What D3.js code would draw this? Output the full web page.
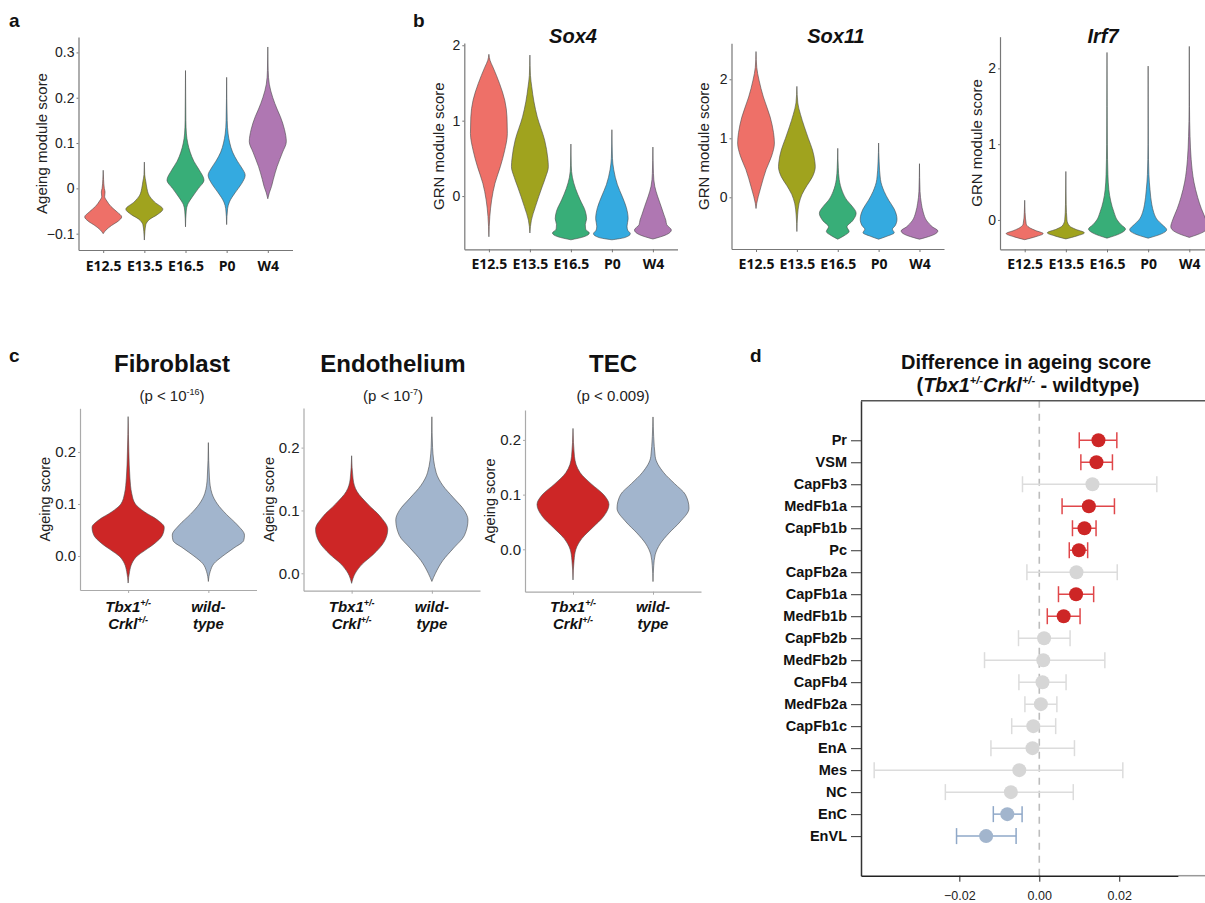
<!DOCTYPE html>
<html>
<head>
<meta charset="utf-8">
<script src="https://cdn.jsdelivr.net/npm/d3@7/dist/d3.min.js"></script>
<style>
  body { margin: 0; background: #fff; }
  svg { display: block; }
  text { font-family: "Liberation Sans", Arial, sans-serif; }
</style>
</head>
<body>
<svg id="fig" width="1205" height="903"></svg>
<script>
// ---------- data ----------
const stages = ['E12.5', 'E13.5', 'E16.5', 'P0', 'W4'];
const stageColors = ['#EE7068', '#A0A31E', '#38AE78', '#34AAE0', '#AF77B2'];

// violin profiles: [score, relative half width]
const ageingViolins = [
  [[0.04,0],[0.02,0.02],[0.0,0.06],[-0.008,0.1],[-0.018,0.08],[-0.028,0.2],[-0.04,0.42],[-0.052,0.75],[-0.063,1],[-0.072,0.82],[-0.082,0.45],[-0.092,0.15],[-0.1,0]],
  [[0.058,0],[0.03,0.02],[0.015,0.08],[0.0,0.14],[-0.015,0.25],[-0.03,0.55],[-0.046,1],[-0.058,0.7],[-0.068,0.3],[-0.08,0.08],[-0.095,0.03],[-0.114,0]],
  [[0.26,0],[0.15,0.02],[0.12,0.05],[0.1,0.12],[0.08,0.25],[0.06,0.45],[0.04,0.75],[0.018,1],[0.0,0.7],[-0.02,0.35],[-0.035,0.12],[-0.05,0.04],[-0.085,0]],
  [[0.245,0],[0.15,0.03],[0.12,0.08],[0.1,0.17],[0.08,0.32],[0.06,0.58],[0.045,0.82],[0.029,1],[0.01,0.8],[-0.01,0.45],[-0.03,0.15],[-0.045,0.05],[-0.08,0]],
  [[0.312,0],[0.26,0.02],[0.23,0.08],[0.2,0.27],[0.175,0.5],[0.158,0.68],[0.13,0.9],[0.103,1],[0.08,0.8],[0.048,0.5],[0.02,0.3],[0.004,0.2],[-0.01,0.08],[-0.023,0]]
];
const sox4Violins = [
  [[1.88,0],[1.8,0.06],[1.71,0.22],[1.49,0.58],[1.27,0.86],[1.05,0.98],[0.83,1],[0.6,0.85],[0.39,0.62],[0.17,0.33],[-0.05,0.15],[-0.27,0.05],[-0.54,0]],
  [[1.87,0],[1.6,0.03],[1.45,0.1],[1.25,0.22],[1.05,0.4],[0.74,0.8],[0.5,0.97],[0.39,1],[0.25,0.85],[0.12,0.66],[-0.14,0.3],[-0.32,0.08],[-0.49,0]],
  [[0.69,0],[0.4,0.02],[0.25,0.08],[0.1,0.25],[-0.05,0.5],[-0.2,0.78],[-0.3,0.85],[-0.38,0.78],[-0.44,0.8],[-0.49,1],[-0.54,0.7],[-0.58,0]],
  [[0.88,0],[0.5,0.03],[0.35,0.1],[0.15,0.3],[0.0,0.55],[-0.15,0.78],[-0.3,0.88],[-0.4,0.82],[-0.45,0.85],[-0.5,1],[-0.55,0.7],[-0.58,0]],
  [[0.65,0],[0.3,0.03],[0.13,0.1],[0.0,0.25],[-0.14,0.45],[-0.25,0.6],[-0.32,0.7],[-0.38,0.75],[-0.45,1],[-0.51,0.75],[-0.57,0]]
];
const sox11Violins = [
  [[2.47,0],[2.2,0.04],[1.99,0.16],[1.7,0.4],[1.36,0.77],[1.1,0.95],[0.92,1],[0.7,0.85],[0.47,0.55],[0.18,0.27],[0.01,0.12],[-0.1,0.04],[-0.19,0]],
  [[1.88,0],[1.6,0.05],[1.4,0.2],[1.2,0.4],[1.0,0.62],[0.8,0.85],[0.6,0.98],[0.52,1],[0.35,0.85],[0.2,0.55],[0.05,0.28],[-0.1,0.12],[-0.3,0.04],[-0.58,0]],
  [[0.83,0],[0.5,0.03],[0.3,0.08],[0.1,0.25],[-0.05,0.5],[-0.15,0.78],[-0.27,1],[-0.4,0.8],[-0.5,0.5],[-0.58,0.62],[-0.65,0.35],[-0.71,0]],
  [[0.92,0],[0.6,0.03],[0.3,0.1],[0.1,0.3],[-0.05,0.55],[-0.2,0.85],[-0.37,1],[-0.48,0.9],[-0.54,0.75],[-0.6,0.85],[-0.66,0.45],[-0.71,0]],
  [[0.57,0],[0.1,0.03],[-0.1,0.1],[-0.25,0.2],[-0.4,0.4],[-0.5,0.7],[-0.57,1],[-0.63,0.8],[-0.68,0.35],[-0.71,0]]
];
const irf7Violins = [
  [[0.26,0],[0.1,0.02],[-0.05,0.08],[-0.1,0.25],[-0.14,0.6],[-0.18,1],[-0.22,0.6],[-0.26,0]],
  [[0.64,0],[0.2,0.02],[0.0,0.06],[-0.08,0.2],[-0.12,0.5],[-0.17,1],[-0.21,0.6],[-0.25,0]],
  [[2.21,0],[1.5,0.01],[1.0,0.02],[0.6,0.05],[0.4,0.1],[0.25,0.2],[0.1,0.38],[0.0,0.55],[-0.06,0.75],[-0.12,1],[-0.18,0.7],[-0.24,0]],
  [[2.03,0],[1.0,0.01],[0.6,0.04],[0.4,0.1],[0.2,0.2],[0.1,0.3],[0.0,0.5],[-0.06,0.75],[-0.13,1],[-0.18,0.75],[-0.24,0]],
  [[2.29,0],[1.5,0.01],[1.1,0.04],[0.8,0.1],[0.5,0.25],[0.3,0.45],[0.15,0.65],[0.0,0.9],[-0.09,1],[-0.16,0.75],[-0.23,0]]
];

const genotypes = ['mut', 'wt'];
const genoColors = ['#CD2626', '#A2B5CD'];
const fibroViolins = [
  [[0.268,0],[0.2,0.02],[0.15,0.05],[0.12,0.1],[0.1,0.2],[0.085,0.45],[0.07,0.8],[0.055,1],[0.04,0.95],[0.025,0.75],[0.01,0.45],[0.0,0.25],[-0.015,0.1],[-0.03,0.04],[-0.052,0]],
  [[0.218,0],[0.15,0.03],[0.12,0.1],[0.1,0.25],[0.08,0.5],[0.06,0.8],[0.04,1],[0.03,0.98],[0.015,0.7],[0.0,0.4],[-0.015,0.15],[-0.03,0.05],[-0.049,0]]
];
const endoViolins = [
  [[0.187,0],[0.15,0.04],[0.13,0.15],[0.11,0.45],[0.09,0.8],[0.07,1],[0.05,0.9],[0.03,0.6],[0.015,0.3],[0.0,0.1],[-0.016,0]],
  [[0.249,0],[0.2,0.02],[0.16,0.12],[0.14,0.3],[0.12,0.6],[0.1,0.9],[0.085,1],[0.06,0.9],[0.04,0.6],[0.02,0.3],[0.0,0.1],[-0.013,0]]
];
const tecViolins = [
  [[0.221,0],[0.17,0.04],[0.14,0.2],[0.12,0.5],[0.1,0.85],[0.082,1],[0.06,0.85],[0.04,0.55],[0.02,0.25],[0.0,0.08],[-0.02,0.03],[-0.056,0]],
  [[0.242,0],[0.17,0.06],[0.14,0.3],[0.12,0.6],[0.1,0.9],[0.075,1],[0.05,0.75],[0.03,0.45],[0.01,0.2],[-0.01,0.06],[-0.03,0.02],[-0.059,0]]
];

const cellTypes = ['Pr','VSM','CapFb3','MedFb1a','CapFb1b','Pc','CapFb2a','CapFb1a','MedFb1b','CapFb2b',
  'MedFb2b','CapFb4','MedFb2a','CapFb1c','EnA','Mes','NC','EnC','EnVL'];
const diffMean = [0.0148,0.0143,0.0133,0.0124,0.0113,0.0099,0.0093,0.0092,0.0061,0.0012,
  0.0010,0.0008,0.0004,-0.0015,-0.0017,-0.0050,-0.0071,-0.0080,-0.0133];
const diffLow = [0.0100,0.0104,-0.0042,0.0057,0.0083,0.0075,-0.0031,0.0048,0.0020,-0.0052,
  -0.0137,-0.0051,-0.0036,-0.0069,-0.0121,-0.0413,-0.0235,-0.0115,-0.0207];
const diffHigh = [0.0194,0.0183,0.0294,0.0188,0.0142,0.0121,0.0195,0.0136,0.0102,0.0077,
  0.0164,0.0067,0.0044,0.0041,0.0088,0.0209,0.0085,-0.0043,-0.0058];
const diffGroup = ['up','up','ns','up','up','up','ns','up','up','ns',
  'ns','ns','ns','ns','ns','ns','ns','down','down'];
const diffTicks = [-0.02, 0, 0.02];

// ---------- drawing ----------
const svg = d3.select('#fig');

function panelLabel(t, x, y) {
  svg.append('text').attr('x', x).attr('y', y).text(t)
    .style('font-size', '19px').style('font-weight', 'bold').attr('fill', '#111');
}

function violinPanel(o) {
  const g = svg.append('g');
  const x = d3.scalePoint().domain(o.cats).range(o.xRange).padding(0.6);
  const y = d3.scaleLinear().domain(o.yDomain).range(o.yRange);
  const half = x.step() * 0.45;

  // violins
  o.profiles.forEach((p, i) => {
    const cx = x(o.cats[i]);
    g.append('path')
      .datum(p)
      .attr('fill', o.colors[i])
      .attr('stroke', '#4a4a4a')
      .attr('stroke-width', 0.6)
      .attr('d', d3.area()
        .y(d => y(d[0]))
        .x0(d => cx - d[1] * half)
        .x1(d => cx + d[1] * half)
        .curve(d3.curveMonotoneY));
  });

  const yAx = g.append('g')
    .attr('transform', 'translate(' + o.xRange[0] + ',0)')
    .attr('color', o.axisColor)
    .call(d3.axisLeft(y).tickValues(o.ticks).tickFormat(o.fmt).tickSize(2).tickSizeOuter(0).tickPadding(o.yPad || 2));
  yAx.selectAll('text').attr('fill', '#222').style('font-size', o.tickFont + 'px');

  const xAx = g.append('g')
    .attr('transform', 'translate(0,' + o.yRange[0] + ')')
    .attr('color', o.axisColor)
    .call(d3.axisBottom(x).tickSize(3).tickSizeOuter(0).tickPadding(o.xPad));
  if (o.xLabels) {
    xAx.selectAll('text').remove();
    o.xLabels(g, x);
  } else {
    xAx.selectAll('text').attr('fill', '#111')
      .style('font-family', '"Open Sans", sans-serif').style('font-weight', 'bold').style('font-size', '14px');
  }
  g.selectAll('.domain').attr('stroke-width', 1.2);

  // axis title
  g.append('text')
    .attr('transform', 'translate(' + o.yTitleX + ',' + ((o.yRange[0] + o.yRange[1]) / 2) + ') rotate(-90)')
    .attr('text-anchor', 'middle')
    .attr('dy', '0.35em')
    .attr('fill', '#222')
    .style('font-size', o.yTitleFont + 'px')
    .text(o.yTitle);

  if (o.title) {
    g.append('text').attr('x', o.titleX).attr('y', o.titleY).attr('text-anchor', 'middle')
      .style('font-size', '20px').style('font-weight', 'bold').style('font-style', 'italic')
      .attr('fill', '#111').text(o.title);
  }
  return g;
}

function supText(sel, parts) {
  // parts: [text, isSup]
  let up = false;
  parts.forEach(p => {
    const t = sel.append('tspan').text(p[0]);
    if (p[1] && !up) { t.attr('dy', -6).style('font-size', '9px'); up = true; }
    else if (p[1]) { t.style('font-size', '9px'); }
    else if (!p[1] && up) { t.attr('dy', 6); up = false; }
  });
}

function genoLabels(g, x) {
  const m = x('mut'), w = x('wt');
  const base = 612;
  const mk = (cx, yy) => g.append('text').attr('x', cx).attr('y', yy).attr('text-anchor', 'middle')
    .style('font-size', '15px').style('font-weight', 'bold').style('font-style', 'italic').attr('fill', '#111');
  supText(mk(m, base), [['Tbx1', false], ['+/-', true]]);
  supText(mk(m, base + 17), [['Crkl', false], ['+/-', true]]);
  mk(w, base).text('wild-');
  mk(w, base + 17).text('type');
}

function cTitle(title, p, cx) {
  svg.append('text').attr('x', cx).attr('y', 372).attr('text-anchor', 'middle')
    .style('font-size', '24px').style('font-weight', 'bold').attr('fill', '#111').text(title);
  const s = svg.append('text').attr('x', cx).attr('y', 401).attr('text-anchor', 'middle')
    .style('font-size', '15px').attr('fill', '#222');
  supText(s, p);
}

// ---- panel a ----
panelLabel('a', 9, 27);
violinPanel({
  cats: stages, profiles: ageingViolins, colors: stageColors,
  xRange: [78.5, 292.5], yDomain: [-0.136, 0.334], yRange: [250, 37],
  ticks: [-0.1, 0, 0.1, 0.2, 0.3], fmt: d => d === 0 ? '0' : d3.format('.1f')(d),
  axisColor: '#777', tickFont: 14, xPad: 8,
  yTitle: 'Ageing module score', yTitleX: 42, yTitleFont: 15
});

// ---- panel b ----
panelLabel('b', 413, 27);
violinPanel({
  cats: stages, profiles: sox4Violins, colors: stageColors,
  xRange: [464.3, 677.5], yDomain: [-0.706, 2.03], yRange: [249.3, 43],
  ticks: [0, 1, 2], fmt: d3.format('d'),
  axisColor: '#777', tickFont: 14, xPad: 7,
  yTitle: 'GRN module score', yTitleX: 439, yTitleFont: 15,
  title: 'Sox4', titleX: 573, titleY: 43
});
violinPanel({
  cats: stages, profiles: sox11Violins, colors: stageColors,
  xRange: [731.5, 944], yDomain: [-0.876, 2.61], yRange: [249, 43.3],
  ticks: [0, 1, 2], fmt: d3.format('d'),
  axisColor: '#777', tickFont: 14, xPad: 7,
  yTitle: 'GRN module score', yTitleX: 704, yTitleFont: 15,
  title: 'Sox11', titleX: 836, titleY: 43
});
violinPanel({
  cats: stages, profiles: irf7Violins, colors: stageColors,
  xRange: [1000, 1214], yDomain: [-0.387, 2.418], yRange: [249.3, 36.7],
  ticks: [0, 1, 2], fmt: d3.format('d'),
  axisColor: '#777', tickFont: 14, xPad: 7,
  yTitle: 'GRN module score', yTitleX: 977, yTitleFont: 15,
  title: 'Irf7', titleX: 1103, titleY: 43
});

// ---- panel c ----
panelLabel('c', 9, 362);
const cFmt = d3.format('.1f');
violinPanel({
  cats: genotypes, profiles: fibroViolins, colors: genoColors,
  xRange: [80, 256.5], yDomain: [-0.0654, 0.284], yRange: [590, 408.3],
  ticks: [0, 0.1, 0.2], fmt: cFmt, axisColor: '#aaa', tickFont: 15, xPad: 8,
  yTitle: 'Ageing score', yTitleX: 45, yTitleFont: 14.5, xLabels: genoLabels
});
cTitle('Fibroblast', [['(p < 10', false], ['-16', true], [')', false]], 172);
violinPanel({
  cats: genotypes, profiles: endoViolins, colors: genoColors,
  xRange: [303.5, 480], yDomain: [-0.0277, 0.263], yRange: [590.7, 408],
  ticks: [0, 0.1, 0.2], fmt: cFmt, axisColor: '#aaa', tickFont: 15, xPad: 8,
  yTitle: 'Ageing score', yTitleX: 269, yTitleFont: 14.5, xLabels: genoLabels
});
cTitle('Endothelium', [['(p < 10', false], ['-7', true], [')', false]], 393);
violinPanel({
  cats: genotypes, profiles: tecViolins, colors: genoColors,
  xRange: [525, 701], yDomain: [-0.0775, 0.2547], yRange: [591.7, 410],
  ticks: [0, 0.1, 0.2], fmt: cFmt, axisColor: '#aaa', tickFont: 15, xPad: 8,
  yTitle: 'Ageing score', yTitleX: 490, yTitleFont: 14.5, xLabels: genoLabels
});
cTitle('TEC', [['(p < 0.009)', false]], 613);

// ---- panel d ----
panelLabel('d', 750, 362);
const dTop = 400.7, dBottom = 875.7, dLeft = 861;
const xd = d3.scaleLinear().domain([-0.0446, 0.0347]).range([dLeft, 1178]);
const yd = d3.scalePoint().domain(cellTypes).range([dTop, dBottom]).padding(1.8);
const dColors = {
  up: { bar: '#E0474A', dot: '#CD2626' },
  ns: { bar: '#DCDCDC', dot: '#D6D6D6' },
  down: { bar: '#8FA8C8', dot: '#A2B5CD' }
};

const gd = svg.append('g');
gd.append('text').attr('x', 1026).attr('y', 369).attr('text-anchor', 'middle')
  .style('font-size', '20px').style('font-weight', 'bold').attr('fill', '#111')
  .text('Difference in ageing score');
const st = gd.append('text').attr('x', 1028).attr('y', 392).attr('text-anchor', 'middle')
  .style('font-size', '20px').style('font-weight', 'bold').attr('fill', '#111');
st.append('tspan').text('(');
st.append('tspan').text('Tbx1').style('font-style', 'italic');
st.append('tspan').text('+/-').attr('dy', -8).style('font-size', '11px').style('font-style', 'italic');
st.append('tspan').text('Crkl').attr('dy', 8).style('font-style', 'italic');
st.append('tspan').text('+/-').attr('dy', -8).style('font-size', '11px').style('font-style', 'italic');
st.append('tspan').text(' - wildtype)').attr('dy', 8);

// zero line
gd.append('line')
  .attr('x1', xd(0)).attr('x2', xd(0)).attr('y1', dTop).attr('y2', dBottom)
  .attr('stroke', '#bdbdbd').attr('stroke-width', 1.6).attr('stroke-dasharray', '7,6');

// error bars + points
const rows = cellTypes.map((c, i) => ({ c, m: diffMean[i], lo: diffLow[i], hi: diffHigh[i], grp: diffGroup[i] }));
gd.selectAll('line.bar').data(rows).enter().append('line')
  .attr('x1', d => xd(d.lo)).attr('x2', d => xd(d.hi))
  .attr('y1', d => yd(d.c)).attr('y2', d => yd(d.c))
  .attr('stroke', d => dColors[d.grp].bar).attr('stroke-width', 1.5);
['lo', 'hi'].forEach(k => {
  gd.selectAll('line.cap-' + k).data(rows).enter().append('line')
    .attr('x1', d => xd(d[k])).attr('x2', d => xd(d[k]))
    .attr('y1', d => yd(d.c) - 8).attr('y2', d => yd(d.c) + 8)
    .attr('stroke', d => dColors[d.grp].bar).attr('stroke-width', 1.5);
});
gd.selectAll('circle').data(rows).enter().append('circle')
  .attr('cx', d => xd(d.m)).attr('cy', d => yd(d.c)).attr('r', 7)
  .attr('fill', d => dColors[d.grp].dot);

// axes and frame
const yAxD = gd.append('g').attr('transform', 'translate(' + dLeft + ',0)').attr('color', '#333')
  .call(d3.axisLeft(yd).tickSize(10).tickSizeOuter(0).tickPadding(4));
yAxD.select('.domain').attr('stroke-width', 1.5);
yAxD.selectAll('text').attr('fill', '#111').style('font-size', '14.5px').style('font-weight', 'bold');
const xAxD = gd.append('g').attr('transform', 'translate(0,' + dBottom + ')').attr('color', '#222')
  .call(d3.axisBottom(xd).tickValues(diffTicks).tickSize(6).tickSizeOuter(0).tickPadding(9)
    .tickFormat(d => d === 0 ? '0.00' : d3.format('.2f')(d).replace('-', '\u2212')));
xAxD.select('.domain').attr('stroke-width', 1.5);
xAxD.selectAll('text').attr('fill', '#222')
  .style('font-family', '"Liberation Sans Narrow", "Liberation Sans", Arial, sans-serif').style('font-size', '12.5px');
gd.append('line').attr('x1', 1178).attr('x2', 1205).attr('y1', dBottom).attr('y2', dBottom)
  .attr('stroke', '#999').attr('stroke-width', 1.5);
gd.append('line').attr('x1', dLeft).attr('x2', 1205).attr('y1', dTop).attr('y2', dTop)
  .attr('stroke', '#555').attr('stroke-width', 1.5);
</script>
</body>
</html>
